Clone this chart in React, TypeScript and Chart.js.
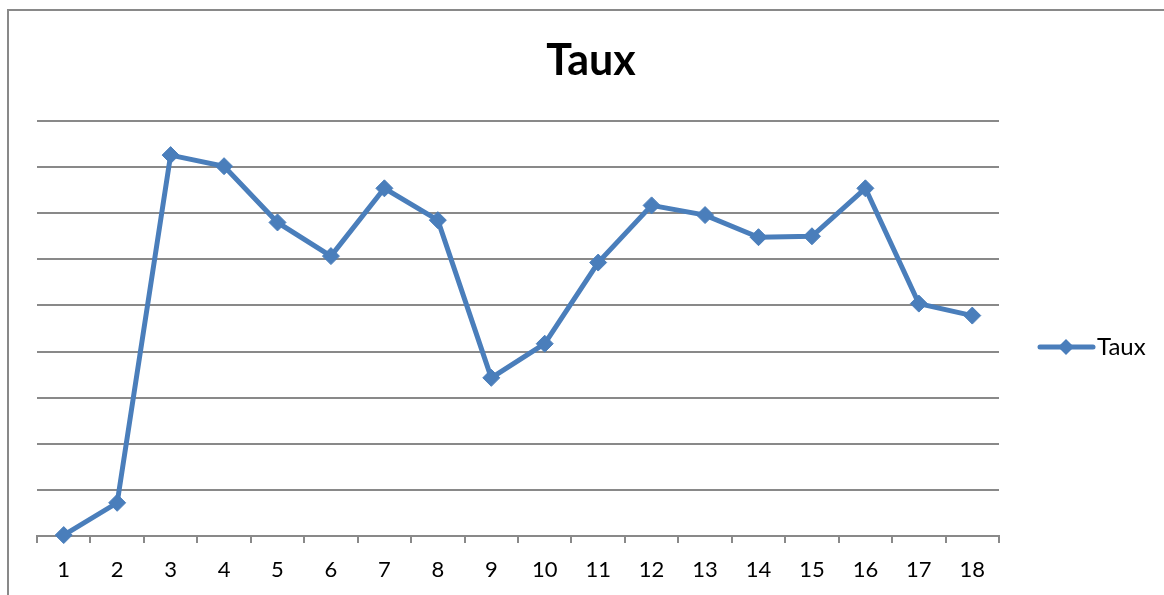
import React, { useEffect, useRef } from "react";
import { Chart, registerables } from "chart.js";

Chart.register(...registerables);

const categories = ["1", "2", "3", "4", "5", "6", "7", "8", "9", "10", "11", "12", "13", "14", "15", "16", "17", "18"];
const tauxValues = [0.02, 0.72, 8.26, 8.02, 6.8, 6.07, 7.54, 6.85, 3.43, 4.17, 5.93, 7.17, 6.96, 6.48, 6.5, 7.54, 5.04, 4.78];
const seriesName = "Taux";
const chartTitle = "Taux";

const COLOR = "#4a7ebb";
const GRID = "#898989";
const FONT = "Lato, 'Open Sans', sans-serif";

const decorPlugin = {
  id: "decor",
  afterDraw(chart: any) {
    const ctx = chart.ctx;
    ctx.save();
    // title
    ctx.fillStyle = "#000";
    ctx.font = "bold 43px " + FONT;
    ctx.textAlign = "center";
    ctx.textBaseline = "alphabetic";
    ctx.fillText(chartTitle, 591, 75);
    // legend
    const y = 347;
    ctx.strokeStyle = COLOR;
    ctx.lineWidth = 5;
    ctx.lineCap = "round";
    ctx.beginPath();
    ctx.moveTo(1040, y);
    ctx.lineTo(1093, y);
    ctx.stroke();
    ctx.fillStyle = COLOR;
    ctx.beginPath();
    const cx = 1066, r = 8;
    ctx.moveTo(cx, y - r);
    ctx.lineTo(cx + r, y);
    ctx.lineTo(cx, y + r);
    ctx.lineTo(cx - r, y);
    ctx.closePath();
    ctx.fill();
    ctx.fillStyle = "#000";
    ctx.font = "24px " + FONT;
    ctx.textBaseline = "alphabetic";
    ctx.textAlign = "left";
    ctx.fillText(seriesName, 1097, 355);
    ctx.restore();
  },
};

export default function App() {
  const ref = useRef<HTMLCanvasElement>(null);
  useEffect(() => {
    if (!ref.current) return;
    const chart = new Chart(ref.current, {
      type: "line",
      data: {
        labels: categories,
        datasets: [
          {
            label: seriesName,
            data: tauxValues,
            borderColor: COLOR,
            backgroundColor: COLOR,
            borderWidth: 5,
            pointStyle: "rectRot",
            pointRadius: 8.5,
            pointBorderWidth: 1,
            pointBackgroundColor: COLOR,
            pointBorderColor: COLOR,
            tension: 0,
            clip: false,
          },
        ],
      },
      options: {
        animation: false,
        responsive: false,
        layout: { padding: { left: 37, right: 165, top: 121, bottom: 0 } },
        plugins: {
          legend: { display: false },
          tooltip: { enabled: false },
          title: { display: false },
        },
        scales: {
          x: {
            offset: true,
            grid: {
              display: true,
              drawOnChartArea: false,
              drawTicks: true,
              tickLength: 7,
              color: GRID,
              lineWidth: 2,
              offset: true,
            },
            border: { display: true, color: GRID, width: 2 },
            ticks: {
              color: "#000",
              font: { family: FONT, size: 22 },
              padding: 14,
              maxRotation: 0,
              autoSkip: false,
            },
            afterFit: (s: any) => {
              s.height = 59;
            },
          },
          y: {
            min: 0,
            max: 9,
            ticks: { display: false, stepSize: 1 },
            grid: { color: GRID, lineWidth: 2, drawTicks: false },
            border: { display: false },
            afterFit: (s: any) => {
              s.width = 0;
            },
          },
        },
      },
      plugins: [decorPlugin],
    });
    return () => chart.destroy();
  }, []);

  return (
    <div style={{ position: "fixed", left: 0, top: 0, width: 1164, height: 595, background: "#fff", overflow: "hidden" }}>
      <div
        style={{
          position: "absolute",
          left: 7,
          top: 9,
          width: 1200,
          height: 700,
          borderTop: "2px solid #898989",
          borderLeft: "2px solid #898989",
        }}
      />
      <canvas ref={ref} width={1164} height={595} style={{ position: "absolute", left: 0, top: 0, width: 1164, height: 595 }} />
    </div>
  );
}
